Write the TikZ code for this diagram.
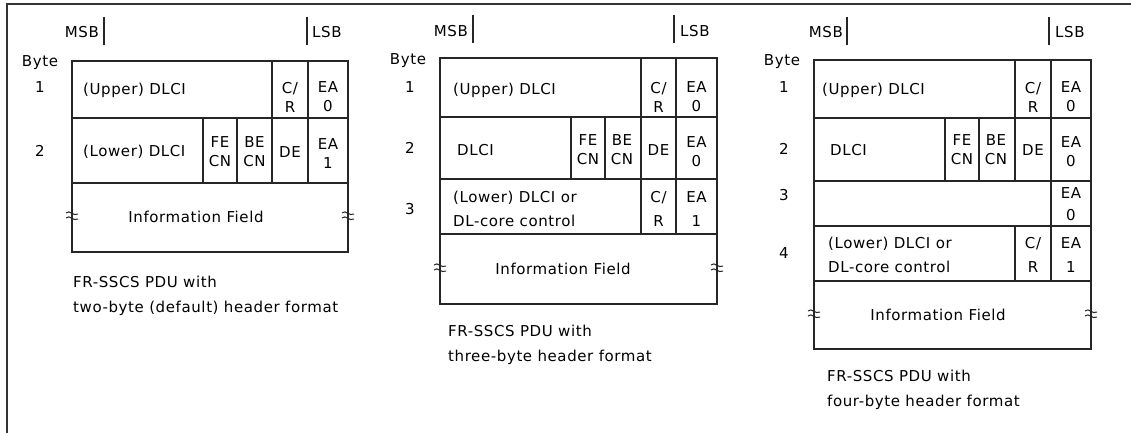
\documentclass[tikz,border=0pt]{standalone}
\usepackage{fontspec}
\newfontfamily\lblfont{DejaVu Sans}[LetterSpace=4]
\newcommand\lbl{\lblfont\fontsize{15}{19}\selectfont}
\newcommand\lblw{\lblfont\fontsize{15}{24}\selectfont}
\newcommand\lblm{\lblfont\fontsize{15}{22}\selectfont}
\newcommand\capf{\lblfont\fontsize{15}{25}\selectfont}
\newcommand\brkmark[2]{%
  \draw[brk] ({#1-6},{#2-4}) .. controls ({#1-2},{#2-8}) and ({#1+1},{#2}) .. ({#1+6},{#2-3});
  \draw[brk] ({#1-6},{#2+1}) .. controls ({#1-2},{#2-3}) and ({#1+1},{#2+5}) .. ({#1+6},{#2+2});}
\tikzset{
  box/.style={draw=black!85, line width=1.4pt},
  bar/.style={draw=black!85, line width=1.5pt},
  frame/.style={draw=black!80, line width=2pt},
  brk/.style={draw=black!85, line width=1pt},
  txt/.style={font=\lbl, inner sep=0pt, text=black},
  lt/.style={txt, anchor=west},
  two/.style={txt, align=center},
  twow/.style={txt, align=center, font=\lblw},
  capt/.style={txt, align=left, anchor=north west, font=\capf},
}
\begin{document}
\begin{tikzpicture}[x=1pt,y=-1pt]
\useasboundingbox (0,0) rectangle (1131,433);
\fill[white] (0,0) rectangle (1131,433);
\draw[frame] (7,433) -- (7,4) -- (1131,4);

% ---------------- Panel 1 ----------------
\draw[box] (72,61) rectangle (348,252);
\draw[box] (72,118) -- (348,118);
\draw[box] (72,183) -- (348,183);
\draw[box] (272,61) -- (272,183);
\draw[box] (308,61) -- (308,183);
\draw[box] (203,118) -- (203,183);
\draw[box] (237,118) -- (237,183);
\draw[bar] (104,17) -- (104,45);
\draw[bar] (307,17) -- (307,45);
\node[txt,anchor=east] (msb1) at (99,32) {MSB};
\node[txt,anchor=west] (lsb1) at (312,32) {LSB};
\node[txt] (byte1) at (40,63) {Byte};
\node[txt] (b1r1) at (40,87) {1};
\node[txt] (b1r2) at (40,151) {2};
\node[lt] (up1) at (83,90) {(Upper) DLCI};
\node[two] (cr1) at (290,97) {C/\\R};
\node[two] (eaa1) at (328,97) {EA\\0};
\node[lt] (lo1) at (83,152) {(Lower) DLCI};
\node[two] (fe1) at (220,152) {FE\\CN};
\node[two] (be1) at (254.5,152) {BE\\CN};
\node[txt] (de1) at (290,152) {DE};
\node[two] (eab1) at (328,154) {EA\\1};
\node[txt] (inf1) at (196,217) {Information Field};
\brkmark{72}{217}
\brkmark{348}{217}
\node[capt] (cap1) at (73,276) {FR-SSCS PDU with\\two-byte (default) header format};

% ---------------- Panel 2 ----------------
\draw[box] (440,58) rectangle (717,304);
\draw[box] (440,117) -- (717,117);
\draw[box] (440,179) -- (717,179);
\draw[box] (440,234) -- (717,234);
\draw[box] (641,58) -- (641,234);
\draw[box] (676,58) -- (676,234);
\draw[box] (571,117) -- (571,179);
\draw[box] (605,117) -- (605,179);
\draw[bar] (473,15) -- (473,43);
\draw[bar] (674,15) -- (674,43);
\node[txt,anchor=east] (msb2) at (468,31) {MSB};
\node[txt,anchor=west] (lsb2) at (680,31) {LSB};
\node[txt] (byte2) at (408,61) {Byte};
\node[txt] (b2r1) at (410,87) {1};
\node[txt] (b2r2) at (410,148) {2};
\node[txt] (b2r3) at (410,209) {3};
\node[lt] (up2) at (453,90) {(Upper) DLCI};
\node[two] (cr2) at (658.5,97) {C/\\R};
\node[two] (eaa2) at (696.5,97) {EA\\0};
\node[lt] (dl2) at (457,150) {DLCI};
\node[two] (fe2) at (588,150) {FE\\CN};
\node[two] (be2) at (622,150) {BE\\CN};
\node[txt] (de2) at (658.5,150) {DE};
\node[two] (eab2) at (696.5,152) {EA\\0};
\node[twow,align=left,anchor=west] (lo2) at (453,209) {(Lower) DLCI or\\DL-core control};
\node[twow] (crb2) at (658.5,209) {C/\\R};
\node[twow] (eac2) at (696.5,209) {EA\\1};
\node[txt] (inf2) at (563,269) {Information Field};
\brkmark{440}{269}
\brkmark{717}{269}
\node[capt] (cap2) at (448,325) {FR-SSCS PDU with\\three-byte header format};

% ---------------- Panel 3 ----------------
\draw[box] (814,60) rectangle (1091,349);
\draw[box] (814,118) -- (1091,118);
\draw[box] (814,181) -- (1091,181);
\draw[box] (814,226) -- (1091,226);
\draw[box] (814,281) -- (1091,281);
\draw[box] (1015,60) -- (1015,181);
\draw[box] (1015,226) -- (1015,281);
\draw[box] (1051,60) -- (1051,281);
\draw[box] (945,118) -- (945,181);
\draw[box] (979,118) -- (979,181);
\draw[bar] (847,17) -- (847,45);
\draw[bar] (1049,17) -- (1049,45);
\node[txt,anchor=east] (msb3) at (843,32) {MSB};
\node[txt,anchor=west] (lsb3) at (1055,32) {LSB};
\node[txt] (byte3) at (782,62) {Byte};
\node[txt] (b3r1) at (784,87) {1};
\node[txt] (b3r2) at (784,149) {2};
\node[txt] (b3r3) at (784,195) {3};
\node[txt] (b3r4) at (784,253) {4};
\node[lt] (up3) at (822,90) {(Upper) DLCI};
\node[two] (cr3) at (1033,97) {C/\\R};
\node[two] (eaa3) at (1071,97) {EA\\0};
\node[lt] (dl3) at (830,150) {DLCI};
\node[two] (fe3) at (962,150) {FE\\CN};
\node[two] (be3) at (996,150) {BE\\CN};
\node[txt] (de3) at (1033,150) {DE};
\node[two] (eab3) at (1071,152) {EA\\0};
\node[txt,align=center,font=\lblm] (eac3) at (1071,204) {EA\\0};
\node[twow,align=left,anchor=west] (lo3) at (828,255) {(Lower) DLCI or\\DL-core control};
\node[twow] (crb3) at (1033,255) {C/\\R};
\node[twow] (ead3) at (1071,255) {EA\\1};
\node[txt] (inf3) at (938,315) {Information Field};
\brkmark{814}{315}
\brkmark{1091}{315}
\node[capt] (cap3) at (827,370) {FR-SSCS PDU with\\four-byte header format};
\end{tikzpicture}
\end{document}
